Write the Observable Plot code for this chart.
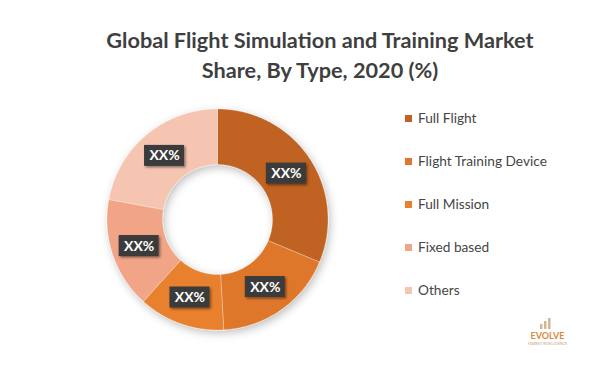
<!DOCTYPE html>
<html>
<head>
<meta charset="utf-8">
<script src="https://cdn.jsdelivr.net/npm/d3@7"></script>
<script src="https://cdn.jsdelivr.net/npm/@observablehq/plot@0.6"></script>
<style>
  html, body { margin: 0; padding: 0; background: #ffffff; }
  #wrap { width: 600px; height: 367px; overflow: hidden; position: relative; }
  #title {
    width: 560px; height: 70px; padding: 25px 0 0 40px;
    text-align: center; font-family: Lato, "Open Sans", sans-serif;
    font-weight: 700; font-size: 21.7px; line-height: 30px; color: #3f3f3f;
  }
</style>
</head>
<body>
<div id="wrap">
  <div id="title">Global Flight Simulation and Training Market<br>Share, By Type, 2020 (%)</div>
  <div id="chart"></div>
</div>
<script>
// ---- data ----
const types = ["Full Flight", "Flight Training Device", "Full Mission", "Fixed based", "Others"];
const shares = [31.3, 17.8, 12.6, 16.2, 22.1];
const valueLabels = ["XX%", "XX%", "XX%", "XX%", "XX%"];
const colors = ["#BF6223", "#DF772C", "#E8802F", "#F1A486", "#F6C5B2"];

// ---- layout ----
const W = 600, H = 272;
const cx = 217, cy = 124, rOuter = 110.5, rInner = 55;

const pie = d3.pie().sort(null).value(d => d)(shares);

// slice polygons
const polys = [];
pie.forEach((p, i) => {
  const n = Math.max(2, Math.ceil((p.endAngle - p.startAngle) / (Math.PI / 360)));
  const pts = [];
  for (let k = 0; k <= n; k++) {
    const a = p.startAngle + (p.endAngle - p.startAngle) * k / n;
    pts.push([cx + rOuter * Math.sin(a), cy - rOuter * Math.cos(a)]);
  }
  for (let k = n; k >= 0; k--) {
    const a = p.startAngle + (p.endAngle - p.startAngle) * k / n;
    pts.push([cx + rInner * Math.sin(a), cy - rInner * Math.cos(a)]);
  }
  pts.push(pts[0]);
  pts.forEach(([x, y]) => polys.push({type: types[i], x, y}));
});

// label centroids
const rMid = (rOuter + rInner) / 2;
const labelPts = pie.map((p, i) => {
  const a = (p.startAngle + p.endAngle) / 2;
  return {type: types[i], label: valueLabels[i], x: cx + rMid * Math.sin(a), y: cy - rMid * Math.cos(a)};
});

// legend rows
const legend = types.map((t, i) => ({type: t, y: 23.5 + i * 43}));

// logo icon bars (decorative)
const logoBars = [
  {x: 540, h: 5}, {x: 544, h: 8}, {x: 548, h: 11}
];

const font = "Lato, 'Open Sans', sans-serif";

const chart = Plot.plot({
  width: W, height: H,
  margin: 0,
  x: {domain: [0, W], range: [0, W], axis: null},
  y: {domain: [0, H], range: [0, H], axis: null},
  color: {domain: types, range: colors},
  style: {background: "transparent", fontFamily: font},
  marks: [
    Plot.line(polys, {x: "x", y: "y", z: "type", fill: "type", stroke: "#ffffff", strokeOpacity: 0.35, strokeWidth: 0.8, curve: "linear"}),
    Plot.rect(labelPts, {x1: d => d.x - 20, x2: d => d.x + 20, y1: d => d.y - 10.5, y2: d => d.y + 10.5, fill: "#3a3a3a"}),
    Plot.text(labelPts, {x: "x", y: "y", text: "label", fill: "#ffffff", fontSize: 14, fontWeight: "bold", fontFamily: font}),
    Plot.rect(legend, {x1: 405, x2: 412, y1: d => d.y - 3.5, y2: d => d.y + 3.5, fill: "type"}),
    Plot.text(legend, {x: 417.5, y: "y", text: "type", textAnchor: "start", fontSize: 13.7, fill: "#454545", fontFamily: font}),
    Plot.rect(logoBars, {x1: d => d.x, x2: d => d.x + 2.5, y1: d => 234 - d.h, y2: 234, fill: "#C9A27A", fillOpacity: 0.8}),
    Plot.text(["EVOLVE"], {x: 547, y: 241, text: d => d, fontSize: 9, fontWeight: "bold", fill: "#D98B3C", fontFamily: font}),
    Plot.text(["MARKET INTELLIGENCE"], {x: 547, y: 248, text: d => d, fontSize: 3.5, fill: "#C9A27A", fontFamily: font})
  ]
});

// soft drop shadows
const ns = "http://www.w3.org/2000/svg";
const defs = document.createElementNS(ns, "defs");
defs.innerHTML = `
  <filter id="donutShadow" x="-20%" y="-20%" width="140%" height="140%">
    <feDropShadow dx="2" dy="3" stdDeviation="4.5" flood-color="#000" flood-opacity="0.25"/>
  </filter>
  <filter id="boxShadow" x="-30%" y="-30%" width="160%" height="160%">
    <feDropShadow dx="1.5" dy="1.5" stdDeviation="1.2" flood-color="#000" flood-opacity="0.45"/>
  </filter>`;
chart.insertBefore(defs, chart.firstChild);
const lineG = chart.querySelector('g[aria-label="line"]');
if (lineG) lineG.setAttribute("filter", "url(#donutShadow)");
const rects = chart.querySelectorAll('g[aria-label="rect"]');
if (rects[0]) rects[0].setAttribute("filter", "url(#boxShadow)");

document.getElementById("chart").appendChild(chart);
</script>
</body>
</html>
